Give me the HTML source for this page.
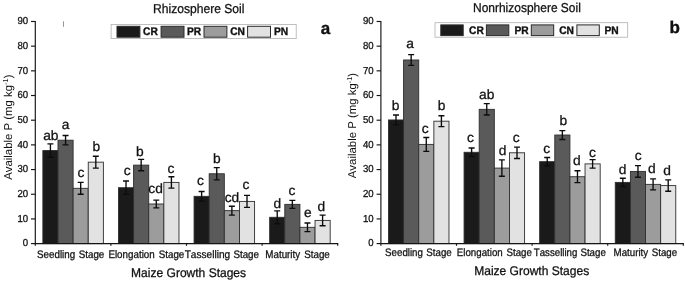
<!DOCTYPE html>
<html><head><meta charset="utf-8"><title>chart</title>
<style>html,body{margin:0;padding:0;background:#fff}svg{display:block;will-change:transform;filter:grayscale(1) blur(0.3px)}text{text-rendering:geometricPrecision;font-kerning:none}</style></head>
<body>
<svg width="685" height="282" viewBox="0 0 685 282">
<rect width="685" height="282" fill="#fff"/>
<rect x="42.86" y="150.56" width="15.13" height="93.04" fill="#1a1a1a" stroke="#2e2e2e" stroke-width="0.9"/>
<rect x="57.99" y="140.19" width="15.13" height="103.41" fill="#5a5a5a" stroke="#2e2e2e" stroke-width="0.9"/>
<rect x="73.12" y="188.32" width="15.13" height="55.28" fill="#9c9c9c" stroke="#2e2e2e" stroke-width="0.9"/>
<rect x="88.25" y="162.16" width="15.13" height="81.44" fill="#e2e2e2" stroke="#2e2e2e" stroke-width="0.9"/>
<rect x="118.46" y="187.70" width="15.13" height="55.90" fill="#1a1a1a" stroke="#2e2e2e" stroke-width="0.9"/>
<rect x="133.59" y="165.12" width="15.13" height="78.48" fill="#5a5a5a" stroke="#2e2e2e" stroke-width="0.9"/>
<rect x="148.72" y="203.99" width="15.13" height="39.61" fill="#9c9c9c" stroke="#2e2e2e" stroke-width="0.9"/>
<rect x="163.85" y="182.39" width="15.13" height="61.21" fill="#e2e2e2" stroke="#2e2e2e" stroke-width="0.9"/>
<rect x="194.06" y="196.34" width="15.13" height="47.26" fill="#1a1a1a" stroke="#2e2e2e" stroke-width="0.9"/>
<rect x="209.19" y="173.76" width="15.13" height="69.84" fill="#5a5a5a" stroke="#2e2e2e" stroke-width="0.9"/>
<rect x="224.32" y="210.65" width="15.13" height="32.95" fill="#9c9c9c" stroke="#2e2e2e" stroke-width="0.9"/>
<rect x="239.45" y="201.40" width="15.13" height="42.20" fill="#e2e2e2" stroke="#2e2e2e" stroke-width="0.9"/>
<rect x="269.66" y="217.29" width="15.13" height="26.31" fill="#1a1a1a" stroke="#2e2e2e" stroke-width="0.9"/>
<rect x="284.79" y="204.36" width="15.13" height="39.24" fill="#5a5a5a" stroke="#2e2e2e" stroke-width="0.9"/>
<rect x="299.92" y="227.31" width="15.13" height="16.29" fill="#9c9c9c" stroke="#2e2e2e" stroke-width="0.9"/>
<rect x="315.05" y="220.40" width="15.13" height="23.20" fill="#e2e2e2" stroke="#2e2e2e" stroke-width="0.9"/>
<path d="M50.42 143.89V157.22M47.42 143.89H53.42M47.42 157.22H53.42" stroke="#0c0c0c" stroke-width="1.35" fill="none"/>
<text transform="translate(50.80 139.50) scale(1.02 1)" font-size="13.5" text-anchor="middle" stroke="#111" stroke-width="0.28" fill="#111" font-family="Liberation Sans, sans-serif">ab</text>
<path d="M65.56 135.50V144.88M62.56 135.50H68.56M62.56 144.88H68.56" stroke="#0c0c0c" stroke-width="1.35" fill="none"/>
<text transform="translate(65.60 128.80) scale(1.02 1)" font-size="13.5" text-anchor="middle" stroke="#111" stroke-width="0.28" fill="#111" font-family="Liberation Sans, sans-serif">a</text>
<path d="M80.69 182.39V194.24M77.69 182.39H83.69M77.69 194.24H83.69" stroke="#0c0c0c" stroke-width="1.35" fill="none"/>
<text transform="translate(80.90 176.60) scale(1.02 1)" font-size="13.5" text-anchor="middle" stroke="#111" stroke-width="0.28" fill="#111" font-family="Liberation Sans, sans-serif">c</text>
<path d="M95.81 156.23V168.08M92.81 156.23H98.81M92.81 168.08H98.81" stroke="#0c0c0c" stroke-width="1.35" fill="none"/>
<text transform="translate(96.20 151.30) scale(1.02 1)" font-size="13.5" text-anchor="middle" stroke="#111" stroke-width="0.28" fill="#111" font-family="Liberation Sans, sans-serif">b</text>
<path d="M126.02 181.04V194.36M123.02 181.04H129.02M123.02 194.36H129.02" stroke="#0c0c0c" stroke-width="1.35" fill="none"/>
<text transform="translate(127.20 175.20) scale(1.02 1)" font-size="13.5" text-anchor="middle" stroke="#111" stroke-width="0.28" fill="#111" font-family="Liberation Sans, sans-serif">c</text>
<path d="M141.16 159.44V170.79M138.16 159.44H144.16M138.16 170.79H144.16" stroke="#0c0c0c" stroke-width="1.35" fill="none"/>
<text transform="translate(139.90 156.40) scale(1.02 1)" font-size="13.5" text-anchor="middle" stroke="#111" stroke-width="0.28" fill="#111" font-family="Liberation Sans, sans-serif">b</text>
<path d="M156.28 200.16V207.81M153.28 200.16H159.28M153.28 207.81H159.28" stroke="#0c0c0c" stroke-width="1.35" fill="none"/>
<text transform="translate(155.60 193.40) scale(1.02 1)" font-size="13.5" text-anchor="middle" stroke="#111" stroke-width="0.28" fill="#111" font-family="Liberation Sans, sans-serif">cd</text>
<path d="M171.41 176.72V188.07M168.41 176.72H174.41M168.41 188.07H174.41" stroke="#0c0c0c" stroke-width="1.35" fill="none"/>
<text transform="translate(170.90 172.50) scale(1.02 1)" font-size="13.5" text-anchor="middle" stroke="#111" stroke-width="0.28" fill="#111" font-family="Liberation Sans, sans-serif">c</text>
<path d="M201.62 191.53V201.15M198.62 191.53H204.62M198.62 201.15H204.62" stroke="#0c0c0c" stroke-width="1.35" fill="none"/>
<text transform="translate(200.40 184.60) scale(1.02 1)" font-size="13.5" text-anchor="middle" stroke="#111" stroke-width="0.28" fill="#111" font-family="Liberation Sans, sans-serif">c</text>
<path d="M216.75 167.59V179.93M213.75 167.59H219.75M213.75 179.93H219.75" stroke="#0c0c0c" stroke-width="1.35" fill="none"/>
<text transform="translate(216.80 162.80) scale(1.02 1)" font-size="13.5" text-anchor="middle" stroke="#111" stroke-width="0.28" fill="#111" font-family="Liberation Sans, sans-serif">b</text>
<path d="M231.88 206.21V215.09M228.88 206.21H234.88M228.88 215.09H234.88" stroke="#0c0c0c" stroke-width="1.35" fill="none"/>
<text transform="translate(232.00 201.70) scale(1.02 1)" font-size="13.5" text-anchor="middle" stroke="#111" stroke-width="0.28" fill="#111" font-family="Liberation Sans, sans-serif">cd</text>
<path d="M247.01 195.35V207.44M244.01 195.35H250.01M244.01 207.44H250.01" stroke="#0c0c0c" stroke-width="1.35" fill="none"/>
<text transform="translate(246.00 188.70) scale(1.02 1)" font-size="13.5" text-anchor="middle" stroke="#111" stroke-width="0.28" fill="#111" font-family="Liberation Sans, sans-serif">c</text>
<path d="M277.22 210.87V223.71M274.22 210.87H280.22M274.22 223.71H280.22" stroke="#0c0c0c" stroke-width="1.35" fill="none"/>
<text transform="translate(277.40 207.80) scale(1.02 1)" font-size="13.5" text-anchor="middle" stroke="#111" stroke-width="0.28" fill="#111" font-family="Liberation Sans, sans-serif">d</text>
<path d="M292.35 200.41V208.31M289.35 200.41H295.35M289.35 208.31H295.35" stroke="#0c0c0c" stroke-width="1.35" fill="none"/>
<text transform="translate(291.90 195.20) scale(1.02 1)" font-size="13.5" text-anchor="middle" stroke="#111" stroke-width="0.28" fill="#111" font-family="Liberation Sans, sans-serif">c</text>
<path d="M307.48 222.99V231.63M304.48 222.99H310.48M304.48 231.63H310.48" stroke="#0c0c0c" stroke-width="1.35" fill="none"/>
<text transform="translate(307.70 217.20) scale(1.02 1)" font-size="13.5" text-anchor="middle" stroke="#111" stroke-width="0.28" fill="#111" font-family="Liberation Sans, sans-serif">e</text>
<path d="M322.61 215.09V225.71M319.61 215.09H325.61M319.61 225.71H325.61" stroke="#0c0c0c" stroke-width="1.35" fill="none"/>
<text transform="translate(321.40 211.00) scale(1.02 1)" font-size="13.5" text-anchor="middle" stroke="#111" stroke-width="0.28" fill="#111" font-family="Liberation Sans, sans-serif">d</text>
<path d="M35.30 20.98V243.60H338.20" stroke="#151515" stroke-width="1.15" fill="none"/>
<path d="M31.00 243.60H35.30" stroke="#151515" stroke-width="1.15"/>
<text transform="translate(28.10 246.40) scale(0.95 1)" font-size="10.1" text-anchor="end" stroke="#111" stroke-width="0.28" fill="#111" font-family="Liberation Sans, sans-serif">0</text>
<path d="M31.00 218.92H35.30" stroke="#151515" stroke-width="1.15"/>
<text transform="translate(28.10 221.72) scale(0.95 1)" font-size="10.1" text-anchor="end" stroke="#111" stroke-width="0.28" fill="#111" font-family="Liberation Sans, sans-serif">10</text>
<path d="M31.00 194.24H35.30" stroke="#151515" stroke-width="1.15"/>
<text transform="translate(28.10 197.04) scale(0.95 1)" font-size="10.1" text-anchor="end" stroke="#111" stroke-width="0.28" fill="#111" font-family="Liberation Sans, sans-serif">20</text>
<path d="M31.00 169.56H35.30" stroke="#151515" stroke-width="1.15"/>
<text transform="translate(28.10 172.36) scale(0.95 1)" font-size="10.1" text-anchor="end" stroke="#111" stroke-width="0.28" fill="#111" font-family="Liberation Sans, sans-serif">30</text>
<path d="M31.00 144.88H35.30" stroke="#151515" stroke-width="1.15"/>
<text transform="translate(28.10 147.68) scale(0.95 1)" font-size="10.1" text-anchor="end" stroke="#111" stroke-width="0.28" fill="#111" font-family="Liberation Sans, sans-serif">40</text>
<path d="M31.00 120.20H35.30" stroke="#151515" stroke-width="1.15"/>
<text transform="translate(28.10 123.00) scale(0.95 1)" font-size="10.1" text-anchor="end" stroke="#111" stroke-width="0.28" fill="#111" font-family="Liberation Sans, sans-serif">50</text>
<path d="M31.00 95.52H35.30" stroke="#151515" stroke-width="1.15"/>
<text transform="translate(28.10 98.32) scale(0.95 1)" font-size="10.1" text-anchor="end" stroke="#111" stroke-width="0.28" fill="#111" font-family="Liberation Sans, sans-serif">60</text>
<path d="M31.00 70.84H35.30" stroke="#151515" stroke-width="1.15"/>
<text transform="translate(28.10 73.64) scale(0.95 1)" font-size="10.1" text-anchor="end" stroke="#111" stroke-width="0.28" fill="#111" font-family="Liberation Sans, sans-serif">70</text>
<path d="M31.00 46.16H35.30" stroke="#151515" stroke-width="1.15"/>
<text transform="translate(28.10 48.96) scale(0.95 1)" font-size="10.1" text-anchor="end" stroke="#111" stroke-width="0.28" fill="#111" font-family="Liberation Sans, sans-serif">80</text>
<path d="M31.00 21.48H35.30" stroke="#151515" stroke-width="1.15"/>
<text transform="translate(28.10 24.28) scale(0.95 1)" font-size="10.1" text-anchor="end" stroke="#111" stroke-width="0.28" fill="#111" font-family="Liberation Sans, sans-serif">90</text>
<path d="M35.30 243.60V245.80" stroke="#151515" stroke-width="1.15"/>
<path d="M110.90 243.60V245.80" stroke="#151515" stroke-width="1.15"/>
<path d="M186.50 243.60V245.80" stroke="#151515" stroke-width="1.15"/>
<path d="M262.10 243.60V245.80" stroke="#151515" stroke-width="1.15"/>
<path d="M337.70 243.60V245.80" stroke="#151515" stroke-width="1.15"/>
<text transform="translate(37.00 257.80) scale(0.9 1)" font-size="10.9" text-anchor="start" stroke="#111" stroke-width="0.28" fill="#111" font-family="Liberation Sans, sans-serif">Seedling</text>
<text transform="translate(78.70 257.80) scale(0.9 1)" font-size="10.9" text-anchor="start" stroke="#111" stroke-width="0.28" fill="#111" font-family="Liberation Sans, sans-serif">Stage</text>
<text transform="translate(108.40 257.80) scale(0.9 1)" font-size="10.9" text-anchor="start" stroke="#111" stroke-width="0.28" fill="#111" font-family="Liberation Sans, sans-serif">Elongation</text>
<text transform="translate(158.70 257.80) scale(0.9 1)" font-size="10.9" text-anchor="start" stroke="#111" stroke-width="0.28" fill="#111" font-family="Liberation Sans, sans-serif">Stage</text>
<text transform="translate(184.70 257.80) scale(0.927 1)" font-size="10.9" text-anchor="start" stroke="#111" stroke-width="0.28" fill="#111" font-family="Liberation Sans, sans-serif">Tasselling</text>
<text transform="translate(233.40 257.80) scale(0.9 1)" font-size="10.9" text-anchor="start" stroke="#111" stroke-width="0.28" fill="#111" font-family="Liberation Sans, sans-serif">Stage</text>
<text transform="translate(265.30 257.80) scale(0.9 1)" font-size="10.9" text-anchor="start" stroke="#111" stroke-width="0.28" fill="#111" font-family="Liberation Sans, sans-serif">Maturity</text>
<text transform="translate(304.20 257.80) scale(0.9 1)" font-size="10.9" text-anchor="start" stroke="#111" stroke-width="0.28" fill="#111" font-family="Liberation Sans, sans-serif">Stage</text>
<text transform="translate(131.10 277.00) scale(0.955 1)" font-size="12.6" text-anchor="start" stroke="#111" stroke-width="0.28" fill="#111" font-family="Liberation Sans, sans-serif">Maize Growth Stages</text>
<text transform="translate(12.00 127.20) rotate(-90)" font-size="11.4" text-anchor="middle" fill="#111" font-family="Liberation Sans, sans-serif">Available P (mg kg<tspan font-size="7.3" dy="-4">-1</tspan><tspan dy="4">)</tspan></text>
<text transform="translate(153.00 12.80) scale(0.938 1)" font-size="12.9" text-anchor="start" stroke="#111" stroke-width="0.28" fill="#111" font-family="Liberation Sans, sans-serif">Rhizosphere Soil</text>
<text transform="translate(320.70 34.00) scale(1.0 1)" font-size="17" text-anchor="start" font-weight="bold" stroke="#111" stroke-width="0.35" fill="#111" font-family="Liberation Sans, sans-serif">a</text>
<rect x="111.1" y="24.5" width="185.1" height="14.1" fill="#fff" stroke="#b0b0b0" stroke-width="0.8"/>
<rect x="117.00" y="26.3" width="22.9" height="10.9" fill="#1a1a1a" stroke="#2b2b2b" stroke-width="1.0"/>
<text transform="translate(143.10 35.45) scale(0.93 1)" font-size="11.0" text-anchor="start" font-weight="bold" stroke="#111" stroke-width="0.35" fill="#111" font-family="Liberation Sans, sans-serif">CR</text>
<rect x="161.10" y="26.3" width="22.9" height="10.9" fill="#5a5a5a" stroke="#2b2b2b" stroke-width="1.0"/>
<text transform="translate(186.90 35.45) scale(0.93 1)" font-size="11.0" text-anchor="start" font-weight="bold" stroke="#111" stroke-width="0.35" fill="#111" font-family="Liberation Sans, sans-serif">PR</text>
<rect x="204.00" y="26.3" width="22.9" height="10.9" fill="#9c9c9c" stroke="#2b2b2b" stroke-width="1.0"/>
<text transform="translate(230.20 35.45) scale(0.93 1)" font-size="11.0" text-anchor="start" font-weight="bold" stroke="#111" stroke-width="0.35" fill="#111" font-family="Liberation Sans, sans-serif">CN</text>
<rect x="247.60" y="26.3" width="22.9" height="10.9" fill="#e2e2e2" stroke="#2b2b2b" stroke-width="1.0"/>
<text transform="translate(274.00 35.45) scale(0.93 1)" font-size="11.0" text-anchor="start" font-weight="bold" stroke="#111" stroke-width="0.35" fill="#111" font-family="Liberation Sans, sans-serif">PN</text>
<rect x="388.46" y="119.95" width="15.13" height="123.65" fill="#1a1a1a" stroke="#2e2e2e" stroke-width="0.9"/>
<rect x="403.59" y="59.98" width="15.13" height="183.62" fill="#5a5a5a" stroke="#2e2e2e" stroke-width="0.9"/>
<rect x="418.72" y="144.39" width="15.13" height="99.21" fill="#9c9c9c" stroke="#2e2e2e" stroke-width="0.9"/>
<rect x="433.85" y="121.19" width="15.13" height="122.41" fill="#e2e2e2" stroke="#2e2e2e" stroke-width="0.9"/>
<rect x="464.06" y="152.28" width="15.13" height="91.32" fill="#1a1a1a" stroke="#2e2e2e" stroke-width="0.9"/>
<rect x="479.19" y="109.34" width="15.13" height="134.26" fill="#5a5a5a" stroke="#2e2e2e" stroke-width="0.9"/>
<rect x="494.32" y="168.08" width="15.13" height="75.52" fill="#9c9c9c" stroke="#2e2e2e" stroke-width="0.9"/>
<rect x="509.45" y="152.78" width="15.13" height="90.82" fill="#e2e2e2" stroke="#2e2e2e" stroke-width="0.9"/>
<rect x="539.66" y="161.66" width="15.13" height="81.94" fill="#1a1a1a" stroke="#2e2e2e" stroke-width="0.9"/>
<rect x="554.79" y="135.01" width="15.13" height="108.59" fill="#5a5a5a" stroke="#2e2e2e" stroke-width="0.9"/>
<rect x="569.92" y="176.72" width="15.13" height="66.88" fill="#9c9c9c" stroke="#2e2e2e" stroke-width="0.9"/>
<rect x="585.05" y="163.88" width="15.13" height="79.72" fill="#e2e2e2" stroke="#2e2e2e" stroke-width="0.9"/>
<rect x="615.26" y="182.39" width="15.13" height="61.21" fill="#1a1a1a" stroke="#2e2e2e" stroke-width="0.9"/>
<rect x="630.39" y="171.41" width="15.13" height="72.19" fill="#5a5a5a" stroke="#2e2e2e" stroke-width="0.9"/>
<rect x="645.52" y="184.37" width="15.13" height="59.23" fill="#9c9c9c" stroke="#2e2e2e" stroke-width="0.9"/>
<rect x="660.65" y="185.60" width="15.13" height="58.00" fill="#e2e2e2" stroke="#2e2e2e" stroke-width="0.9"/>
<path d="M396.02 115.02V124.89M393.02 115.02H399.02M393.02 124.89H399.02" stroke="#0c0c0c" stroke-width="1.35" fill="none"/>
<text transform="translate(395.50 109.50) scale(1.02 1)" font-size="13.5" text-anchor="middle" stroke="#111" stroke-width="0.28" fill="#111" font-family="Liberation Sans, sans-serif">b</text>
<path d="M411.15 54.55V65.41M408.15 54.55H414.15M408.15 65.41H414.15" stroke="#0c0c0c" stroke-width="1.35" fill="none"/>
<text transform="translate(410.10 48.30) scale(1.02 1)" font-size="13.5" text-anchor="middle" stroke="#111" stroke-width="0.28" fill="#111" font-family="Liberation Sans, sans-serif">a</text>
<path d="M426.28 137.48V151.30M423.28 137.48H429.28M423.28 151.30H429.28" stroke="#0c0c0c" stroke-width="1.35" fill="none"/>
<text transform="translate(425.30 133.00) scale(1.02 1)" font-size="13.5" text-anchor="middle" stroke="#111" stroke-width="0.28" fill="#111" font-family="Liberation Sans, sans-serif">c</text>
<path d="M441.41 115.76V126.62M438.41 115.76H444.41M438.41 126.62H444.41" stroke="#0c0c0c" stroke-width="1.35" fill="none"/>
<text transform="translate(441.60 110.40) scale(1.02 1)" font-size="13.5" text-anchor="middle" stroke="#111" stroke-width="0.28" fill="#111" font-family="Liberation Sans, sans-serif">b</text>
<path d="M471.62 147.96V156.60M468.62 147.96H474.62M468.62 156.60H474.62" stroke="#0c0c0c" stroke-width="1.35" fill="none"/>
<text transform="translate(470.50 142.20) scale(1.02 1)" font-size="13.5" text-anchor="middle" stroke="#111" stroke-width="0.28" fill="#111" font-family="Liberation Sans, sans-serif">c</text>
<path d="M486.75 103.66V115.02M483.75 103.66H489.75M483.75 115.02H489.75" stroke="#0c0c0c" stroke-width="1.35" fill="none"/>
<text transform="translate(486.70 98.60) scale(1.02 1)" font-size="13.5" text-anchor="middle" stroke="#111" stroke-width="0.28" fill="#111" font-family="Liberation Sans, sans-serif">ab</text>
<path d="M501.88 159.93V176.22M498.88 159.93H504.88M498.88 176.22H504.88" stroke="#0c0c0c" stroke-width="1.35" fill="none"/>
<text transform="translate(502.50 155.10) scale(1.02 1)" font-size="13.5" text-anchor="middle" stroke="#111" stroke-width="0.28" fill="#111" font-family="Liberation Sans, sans-serif">d</text>
<path d="M517.01 147.10V158.45M514.01 147.10H520.01M514.01 158.45H520.01" stroke="#0c0c0c" stroke-width="1.35" fill="none"/>
<text transform="translate(516.20 142.20) scale(1.02 1)" font-size="13.5" text-anchor="middle" stroke="#111" stroke-width="0.28" fill="#111" font-family="Liberation Sans, sans-serif">c</text>
<path d="M547.22 157.47V165.86M544.22 157.47H550.22M544.22 165.86H550.22" stroke="#0c0c0c" stroke-width="1.35" fill="none"/>
<text transform="translate(546.60 152.50) scale(1.02 1)" font-size="13.5" text-anchor="middle" stroke="#111" stroke-width="0.28" fill="#111" font-family="Liberation Sans, sans-serif">c</text>
<path d="M562.35 130.57V139.45M559.35 130.57H565.35M559.35 139.45H565.35" stroke="#0c0c0c" stroke-width="1.35" fill="none"/>
<text transform="translate(563.40 125.10) scale(1.02 1)" font-size="13.5" text-anchor="middle" stroke="#111" stroke-width="0.28" fill="#111" font-family="Liberation Sans, sans-serif">b</text>
<path d="M577.48 170.79V182.64M574.48 170.79H580.48M574.48 182.64H580.48" stroke="#0c0c0c" stroke-width="1.35" fill="none"/>
<text transform="translate(576.70 164.50) scale(1.02 1)" font-size="13.5" text-anchor="middle" stroke="#111" stroke-width="0.28" fill="#111" font-family="Liberation Sans, sans-serif">d</text>
<path d="M592.61 159.69V168.08M589.61 159.69H595.61M589.61 168.08H595.61" stroke="#0c0c0c" stroke-width="1.35" fill="none"/>
<text transform="translate(592.50 156.60) scale(1.02 1)" font-size="13.5" text-anchor="middle" stroke="#111" stroke-width="0.28" fill="#111" font-family="Liberation Sans, sans-serif">c</text>
<path d="M622.82 178.20V186.59M619.82 178.20H625.82M619.82 186.59H625.82" stroke="#0c0c0c" stroke-width="1.35" fill="none"/>
<text transform="translate(622.60 173.60) scale(1.02 1)" font-size="13.5" text-anchor="middle" stroke="#111" stroke-width="0.28" fill="#111" font-family="Liberation Sans, sans-serif">d</text>
<path d="M637.95 165.61V177.21M634.95 165.61H640.95M634.95 177.21H640.95" stroke="#0c0c0c" stroke-width="1.35" fill="none"/>
<text transform="translate(638.20 159.60) scale(1.02 1)" font-size="13.5" text-anchor="middle" stroke="#111" stroke-width="0.28" fill="#111" font-family="Liberation Sans, sans-serif">c</text>
<path d="M653.08 178.94V189.80M650.08 178.94H656.08M650.08 189.80H656.08" stroke="#0c0c0c" stroke-width="1.35" fill="none"/>
<text transform="translate(651.90 172.70) scale(1.02 1)" font-size="13.5" text-anchor="middle" stroke="#111" stroke-width="0.28" fill="#111" font-family="Liberation Sans, sans-serif">d</text>
<path d="M668.21 179.93V191.28M665.21 179.93H671.21M665.21 191.28H671.21" stroke="#0c0c0c" stroke-width="1.35" fill="none"/>
<text transform="translate(667.10 175.40) scale(1.02 1)" font-size="13.5" text-anchor="middle" stroke="#111" stroke-width="0.28" fill="#111" font-family="Liberation Sans, sans-serif">d</text>
<path d="M380.90 20.98V243.60H683.80" stroke="#151515" stroke-width="1.15" fill="none"/>
<path d="M376.60 243.60H380.90" stroke="#151515" stroke-width="1.15"/>
<text transform="translate(373.70 246.40) scale(0.95 1)" font-size="10.1" text-anchor="end" stroke="#111" stroke-width="0.28" fill="#111" font-family="Liberation Sans, sans-serif">0</text>
<path d="M376.60 218.92H380.90" stroke="#151515" stroke-width="1.15"/>
<text transform="translate(373.70 221.72) scale(0.95 1)" font-size="10.1" text-anchor="end" stroke="#111" stroke-width="0.28" fill="#111" font-family="Liberation Sans, sans-serif">10</text>
<path d="M376.60 194.24H380.90" stroke="#151515" stroke-width="1.15"/>
<text transform="translate(373.70 197.04) scale(0.95 1)" font-size="10.1" text-anchor="end" stroke="#111" stroke-width="0.28" fill="#111" font-family="Liberation Sans, sans-serif">20</text>
<path d="M376.60 169.56H380.90" stroke="#151515" stroke-width="1.15"/>
<text transform="translate(373.70 172.36) scale(0.95 1)" font-size="10.1" text-anchor="end" stroke="#111" stroke-width="0.28" fill="#111" font-family="Liberation Sans, sans-serif">30</text>
<path d="M376.60 144.88H380.90" stroke="#151515" stroke-width="1.15"/>
<text transform="translate(373.70 147.68) scale(0.95 1)" font-size="10.1" text-anchor="end" stroke="#111" stroke-width="0.28" fill="#111" font-family="Liberation Sans, sans-serif">40</text>
<path d="M376.60 120.20H380.90" stroke="#151515" stroke-width="1.15"/>
<text transform="translate(373.70 123.00) scale(0.95 1)" font-size="10.1" text-anchor="end" stroke="#111" stroke-width="0.28" fill="#111" font-family="Liberation Sans, sans-serif">50</text>
<path d="M376.60 95.52H380.90" stroke="#151515" stroke-width="1.15"/>
<text transform="translate(373.70 98.32) scale(0.95 1)" font-size="10.1" text-anchor="end" stroke="#111" stroke-width="0.28" fill="#111" font-family="Liberation Sans, sans-serif">60</text>
<path d="M376.60 70.84H380.90" stroke="#151515" stroke-width="1.15"/>
<text transform="translate(373.70 73.64) scale(0.95 1)" font-size="10.1" text-anchor="end" stroke="#111" stroke-width="0.28" fill="#111" font-family="Liberation Sans, sans-serif">70</text>
<path d="M376.60 46.16H380.90" stroke="#151515" stroke-width="1.15"/>
<text transform="translate(373.70 48.96) scale(0.95 1)" font-size="10.1" text-anchor="end" stroke="#111" stroke-width="0.28" fill="#111" font-family="Liberation Sans, sans-serif">80</text>
<path d="M376.60 21.48H380.90" stroke="#151515" stroke-width="1.15"/>
<text transform="translate(373.70 24.28) scale(0.95 1)" font-size="10.1" text-anchor="end" stroke="#111" stroke-width="0.28" fill="#111" font-family="Liberation Sans, sans-serif">90</text>
<path d="M380.90 243.60V245.80" stroke="#151515" stroke-width="1.15"/>
<path d="M456.50 243.60V245.80" stroke="#151515" stroke-width="1.15"/>
<path d="M532.10 243.60V245.80" stroke="#151515" stroke-width="1.15"/>
<path d="M607.70 243.60V245.80" stroke="#151515" stroke-width="1.15"/>
<path d="M683.30 243.60V245.80" stroke="#151515" stroke-width="1.15"/>
<text transform="translate(385.10 256.10) scale(0.9 1)" font-size="10.8" text-anchor="start" stroke="#111" stroke-width="0.28" fill="#111" font-family="Liberation Sans, sans-serif">Seedling</text>
<text transform="translate(426.30 256.10) scale(0.9 1)" font-size="10.8" text-anchor="start" stroke="#111" stroke-width="0.28" fill="#111" font-family="Liberation Sans, sans-serif">Stage</text>
<text transform="translate(456.80 256.10) scale(0.9 1)" font-size="10.8" text-anchor="start" stroke="#111" stroke-width="0.28" fill="#111" font-family="Liberation Sans, sans-serif">Elongation</text>
<text transform="translate(506.50 256.10) scale(0.9 1)" font-size="10.8" text-anchor="start" stroke="#111" stroke-width="0.28" fill="#111" font-family="Liberation Sans, sans-serif">Stage</text>
<text transform="translate(533.80 256.10) scale(0.8955 1)" font-size="10.8" text-anchor="start" stroke="#111" stroke-width="0.28" fill="#111" font-family="Liberation Sans, sans-serif">Tasselling</text>
<text transform="translate(580.40 256.10) scale(0.9 1)" font-size="10.8" text-anchor="start" stroke="#111" stroke-width="0.28" fill="#111" font-family="Liberation Sans, sans-serif">Stage</text>
<text transform="translate(613.60 256.10) scale(0.9 1)" font-size="10.8" text-anchor="start" stroke="#111" stroke-width="0.28" fill="#111" font-family="Liberation Sans, sans-serif">Maturity</text>
<text transform="translate(651.70 256.10) scale(0.9 1)" font-size="10.8" text-anchor="start" stroke="#111" stroke-width="0.28" fill="#111" font-family="Liberation Sans, sans-serif">Stage</text>
<text transform="translate(474.20 274.90) scale(0.955 1)" font-size="12.6" text-anchor="start" stroke="#111" stroke-width="0.28" fill="#111" font-family="Liberation Sans, sans-serif">Maize Growth Stages</text>
<text transform="translate(355.60 125.60) rotate(-90)" font-size="11.4" text-anchor="middle" fill="#111" font-family="Liberation Sans, sans-serif">Available P (mg kg<tspan font-size="7.3" dy="-4">-1</tspan><tspan dy="4">)</tspan></text>
<text transform="translate(473.00 12.30) scale(0.929 1)" font-size="12.9" text-anchor="start" stroke="#111" stroke-width="0.28" fill="#111" font-family="Liberation Sans, sans-serif">Nonrhizosphere Soil</text>
<text transform="translate(669.60 32.90) scale(1.0 1)" font-size="17" text-anchor="start" font-weight="bold" stroke="#111" stroke-width="0.35" fill="#111" font-family="Liberation Sans, sans-serif">b</text>
<rect x="435" y="22.7" width="192.7" height="14.5" fill="#fff" stroke="#b0b0b0" stroke-width="0.8"/>
<rect x="440.80" y="24.9" width="22.4" height="10.7" fill="#1a1a1a" stroke="#2b2b2b" stroke-width="1.0"/>
<text transform="translate(469.00 33.80) scale(0.93 1)" font-size="11.0" text-anchor="start" font-weight="bold" stroke="#111" stroke-width="0.35" fill="#111" font-family="Liberation Sans, sans-serif">CR</text>
<rect x="486.40" y="24.9" width="22.4" height="10.7" fill="#5a5a5a" stroke="#2b2b2b" stroke-width="1.0"/>
<text transform="translate(514.50 33.80) scale(0.93 1)" font-size="11.0" text-anchor="start" font-weight="bold" stroke="#111" stroke-width="0.35" fill="#111" font-family="Liberation Sans, sans-serif">PR</text>
<rect x="531.30" y="24.9" width="22.4" height="10.7" fill="#9c9c9c" stroke="#2b2b2b" stroke-width="1.0"/>
<text transform="translate(559.20 33.80) scale(0.93 1)" font-size="11.0" text-anchor="start" font-weight="bold" stroke="#111" stroke-width="0.35" fill="#111" font-family="Liberation Sans, sans-serif">CN</text>
<rect x="576.90" y="24.9" width="22.4" height="10.7" fill="#e2e2e2" stroke="#2b2b2b" stroke-width="1.0"/>
<text transform="translate(604.50 33.80) scale(0.93 1)" font-size="11.0" text-anchor="start" font-weight="bold" stroke="#111" stroke-width="0.35" fill="#111" font-family="Liberation Sans, sans-serif">PN</text>
<path d="M63.5 21.3V26.8" stroke="#8c8c8c" stroke-width="0.9"/>
</svg>
</body></html>
